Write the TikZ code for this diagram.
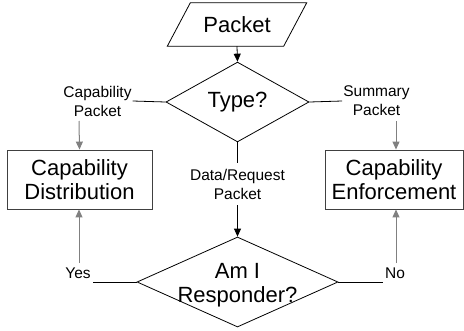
\documentclass[tikz,border=0pt]{standalone}
\usepackage{fontspec}
\setmainfont{Liberation Sans}
\usetikzlibrary{shapes.geometric,arrows.meta}
\tikzset{
  big/.style={font=\fontsize{22}{24}\selectfont, align=center},
  small/.style={font=\fontsize{15.5}{19}\selectfont, align=center, inner sep=1pt},
  flow/.style={draw=black, line width=0.8pt, -{Triangle[width=7pt,length=8pt]}},
  side/.style={draw=black!50, line width=1pt, -{Triangle[width=7pt,length=8pt]}},
  plain/.style={draw=black, line width=0.8pt},
  decision/.style={diamond, draw, line width=0.8pt, inner sep=0pt, big},
  procbox/.style={rectangle, draw=black!75, line width=0.9pt, inner sep=0pt, big},
}
\begin{document}
\begin{tikzpicture}[x=1pt,y=-1pt]
\useasboundingbox (0,0) rectangle (464,330);
% Packet parallelogram
\node[rectangle, minimum width=116pt, minimum height=43pt, inner sep=0pt, big] (packet) at (237,24.5) {Packet};
\draw[line width=0.8pt] ([xshift=11.5pt]packet.north west) -- ([xshift=11.5pt]packet.north east)
  -- ([xshift=-11.5pt]packet.south east) -- ([xshift=-11.5pt]packet.south west) -- cycle;
\node[decision, minimum width=143pt, minimum height=57pt] (type) at (237.5,102) {Type?};
\node[procbox, minimum width=145pt, minimum height=59pt] (capd) at (79.5,179.5) {Capability\\Distribution};
\node[procbox, minimum width=138pt, minimum height=59pt] (cape) at (394,179.5) {Capability\\Enforcement};
\node[decision, minimum width=201pt, minimum height=90pt] (resp) at (237.5,282) {};
\node[big, inner sep=0pt] (resptext) at (237.5,285) {Am I\\Responder?};
% labels
\node[small] (capl) at (97.5,101) {Capability\\Packet};
\node[small] (suml) at (376.5,101) {Summary\\Packet};
\node[small] (datal) at (237.5,184) {Data/Request\\Packet};
\node[small] (yesl) at (78,273) {Yes};
\node[small] (nol) at (395,273) {No};
\coordinate (c1) at (79,121);
\coordinate (c2) at (396,121);
\coordinate (c3) at (79,263);
\coordinate (c4) at (396,263);
\coordinate (yl) at (93,282);
\coordinate (nl) at (383,282);
\coordinate (d1) at (237.5,163);
\coordinate (d2) at (237.5,205);
% connectors
\draw[flow] (packet.south) -- (type.north);
\draw[plain] (type.west) -- (capl.east);
\draw[plain] (type.east) -- (suml.west);
\draw[side] (c1) -- (capd.north);
\draw[side] (c2) -- (cape.north -| c2);
\draw[plain] (type.south) -- (d1);
\draw[flow] (d2) -- (resp.north);
\draw[plain] (resp.west) -- (yl);
\draw[plain] (resp.east) -- (nl);
\draw[side] (c3) -- (capd.south -| c3);
\draw[side] (c4) -- (cape.south -| c4);
\end{tikzpicture}
\end{document}
